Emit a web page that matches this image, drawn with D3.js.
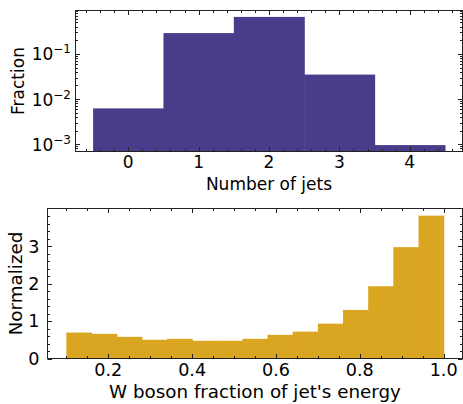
<!DOCTYPE html>
<html>
<head>
<meta charset="utf-8">
<script src="https://cdn.jsdelivr.net/npm/d3@7/dist/d3.min.js"></script>
<style>
  body { margin: 0; background: #fff; }
  svg { display: block; font-family: "DejaVu Sans", sans-serif; }
</style>
</head>
<body>
<svg id="chart" width="463" height="404"></svg>
<script>
// ---- Data ----
const jetCounts = [0, 1, 2, 3, 4];
const jetFractions = [0.0062, 0.291, 0.665, 0.0349, 0.00095];
const jetTickLabels = ["0", "1", "2", "3", "4"];
const fracTickExponents = [-3, -2, -1];

const wBinEdges = [0.10, 0.16, 0.22, 0.28, 0.34, 0.40, 0.46, 0.52, 0.58, 0.64, 0.70, 0.76, 0.82, 0.88, 0.94, 1.00];
const wDensity = [0.693, 0.658, 0.579, 0.500, 0.526, 0.474, 0.474, 0.526, 0.632, 0.719, 0.930, 1.298, 1.930, 2.974, 3.816];
const wXTicks = [0.2, 0.4, 0.6, 0.8, 1.0];
const wYTicks = [0, 1, 2, 3];

const svg = d3.select("#chart");
const FS_TOP = 17;
const FS_BOT = 18.3;
const FS_BOT_TICK = 17.6;
const MAJ = 4.5, MIN = 2.5;

function frame(g, L, R, T, B) {
  g.append("rect").attr("x", L).attr("y", T).attr("width", R - L).attr("height", B - T)
    .attr("fill", "none").attr("stroke", "#222").attr("stroke-width", 1);
}
function xTicks(g, x, vals, T, B, len) {
  vals.forEach(v => {
    const px = Math.round(x(v)) + 0.5;
    g.append("line").attr("x1", px).attr("x2", px).attr("y1", B).attr("y2", B - len).attr("stroke", "#222").attr("stroke-width", 1);
    g.append("line").attr("x1", px).attr("x2", px).attr("y1", T).attr("y2", T + len).attr("stroke", "#222").attr("stroke-width", 1);
  });
}
function yTicks(g, y, vals, L, R, len) {
  vals.forEach(v => {
    const py = Math.round(y(v)) + 0.5;
    g.append("line").attr("y1", py).attr("y2", py).attr("x1", L).attr("x2", L + len).attr("stroke", "#222").attr("stroke-width", 1);
    g.append("line").attr("y1", py).attr("y2", py).attr("x1", R).attr("x2", R - len).attr("stroke", "#222").attr("stroke-width", 1);
  });
}

// ---- Top panel ----
{
  const L = 75.5, R = 462.5, T = 10.5, B = 151.5;
  const g = svg.append("g");
  const x = d3.scaleLinear().domain([-0.75, 4.75]).range([L, R]);
  const lmin = Math.log10(d3.min(jetFractions)), lmax = Math.log10(d3.max(jetFractions));
  const m = (lmax - lmin) * 0.05;
  const y = d3.scaleLog().domain([Math.pow(10, lmin - m), Math.pow(10, lmax + m)]).range([B, T]);

  g.selectAll("rect.bar").data(jetCounts).enter().append("rect")
    .attr("class", "bar")
    .attr("x", d => x(d - 0.5))
    .attr("width", d => x(d + 0.5) - x(d - 0.5) + 0.6)
    .attr("y", (d, i) => y(jetFractions[i]))
    .attr("height", (d, i) => B - y(jetFractions[i]))
    .attr("fill", "#483D8B");

  const xMinor = d3.range(-0.6, 4.75, 0.2).map(v => +v.toFixed(2)).filter(v => Math.abs(v - Math.round(v)) > 1e-6);
  xTicks(g, x, xMinor, T, B, MIN);
  xTicks(g, x, jetCounts, T, B, MAJ);
  const [d0, d1] = y.domain();
  const yMinor = [];
  for (let e = -4; e <= 0; e++) for (let k = 2; k <= 9; k++) { const v = k * Math.pow(10, e); if (v >= d0 && v <= d1) yMinor.push(v); }
  yTicks(g, y, yMinor, L, R, MIN);
  yTicks(g, y, fracTickExponents.map(e => Math.pow(10, e)), L, R, MAJ);
  frame(g, L, R, T, B);

  jetCounts.forEach((d, i) => {
    g.append("text").attr("x", x(d)).attr("y", 168).attr("text-anchor", "middle")
      .attr("font-size", FS_TOP).attr("fill", "#000").text(jetTickLabels[i]);
  });
  fracTickExponents.forEach(e => {
    const t = g.append("text").attr("x", 71).attr("y", y(Math.pow(10, e)) + 6.5).attr("text-anchor", "end")
      .attr("font-size", FS_TOP).attr("fill", "#000");
    t.append("tspan").text("10");
    t.append("tspan").attr("font-size", 12).attr("dy", -7).text("\u2212" + Math.abs(e));
  });
  g.append("text").attr("x", (L + R) / 2).attr("y", 190).attr("text-anchor", "middle")
    .attr("font-size", FS_TOP).text("Number of jets");
  g.append("text").attr("transform", `translate(24,${(T + B) / 2}) rotate(-90)`).attr("text-anchor", "middle")
    .attr("font-size", FS_TOP).text("Fraction");
}

// ---- Bottom panel ----
{
  const L = 47.5, R = 462.5, T = 208.5, B = 358.5;
  const g = svg.append("g");
  const lo = wBinEdges[0], hi = wBinEdges[wBinEdges.length - 1];
  const mx = (hi - lo) * 0.05;
  const x = d3.scaleLinear().domain([lo - mx, hi + mx]).range([L, R]);
  const y = d3.scaleLinear().domain([0, d3.max(wDensity) * 1.05]).range([B, T]);

  g.selectAll("rect.bar").data(wDensity).enter().append("rect")
    .attr("class", "bar")
    .attr("x", (d, i) => x(wBinEdges[i]))
    .attr("width", (d, i) => x(wBinEdges[i + 1]) - x(wBinEdges[i]) + 0.6)
    .attr("y", d => y(d))
    .attr("height", d => B - y(d))
    .attr("fill", "#DAA520");

  const xMinor = d3.range(0.1, 1.04, 0.05).map(v => +v.toFixed(2)).filter(v => Math.abs(v / 0.2 - Math.round(v / 0.2)) > 1e-6);
  xTicks(g, x, xMinor, T, B, MIN);
  xTicks(g, x, wXTicks, T, B, MAJ);
  const yMinor = d3.range(0.2, y.domain()[1], 0.2).map(v => +v.toFixed(2)).filter(v => Math.abs(v - Math.round(v)) > 1e-6);
  yTicks(g, y, yMinor, L, R, MIN);
  yTicks(g, y, wYTicks, L, R, MAJ);
  frame(g, L, R, T, B);

  wXTicks.forEach(v => {
    g.append("text").attr("x", x(v)).attr("y", 376).attr("text-anchor", "middle")
      .attr("font-size", FS_BOT_TICK).text(d3.format(".1f")(v));
  });
  wYTicks.forEach(v => {
    g.append("text").attr("x", 39.5).attr("y", y(v) + 6.4).attr("text-anchor", "end")
      .attr("font-size", FS_BOT_TICK).text(String(v));
  });
  g.append("text").attr("x", (L + R) / 2).attr("y", 397.5).attr("text-anchor", "middle")
    .attr("font-size", FS_BOT).text("W boson fraction of jet's energy");
  g.append("text").attr("transform", `translate(22,${(T + B) / 2}) rotate(-90)`).attr("text-anchor", "middle")
    .attr("font-size", FS_BOT).text("Normalized");
}
</script>
</body>
</html>
